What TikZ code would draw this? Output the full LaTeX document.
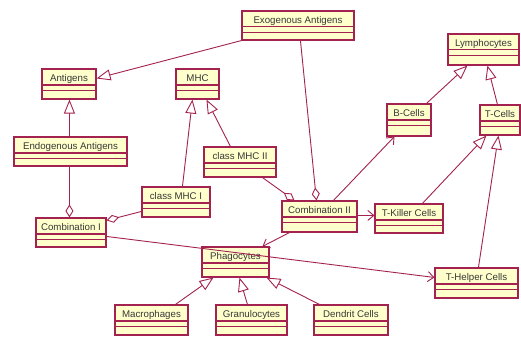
\documentclass[tikz,border=0pt]{standalone}
\usepackage{fontspec}
\setmainfont{Liberation Sans}
\usetikzlibrary{arrows.meta,calc,fit}
\definecolor{umlred}{RGB}{163,34,80}
\definecolor{umlfill}{RGB}{255,255,204}
\definecolor{umltext}{RGB}{55,55,55}
\tikzset{
  cls/.style={draw=umlred, fill=umlfill, line width=1.1pt, inner sep=0pt, rectangle},
  lbl/.style={font=\fontsize{9.7}{10}\selectfont, text=umltext, inner sep=0pt, anchor=base},
  sep/.style={draw=umlred, line width=1.1pt},
  conn/.style={draw=umlred, line width=0.9pt},
  gen/.style={conn, -{Triangle[open,length=14pt,width=11pt,fill=white]}},
  agg/.style={conn, {Diamond[open,length=13pt,width=8pt,fill=white]}-},
  nav/.style={conn, -{Straight Barb[length=6pt,width=10pt]}}
}
\newcommand\umlclass[6]{%
  \node[cls, fit={(#2,#3) (#4,#5)}] (#1) {};
  \draw[sep] ($(#1.north west)+(0,16.5)$) -- ($(#1.north east)+(0,16.5)$);
  \draw[sep] ($(#1.north west)+(0,22)$) -- ($(#1.north east)+(0,22)$);
  \node[lbl] (#1-t) at ($(#1.north)+(0,12.6)$) {#6};
}
\begin{document}
\begin{tikzpicture}[x=1pt,y=-1pt]
\useasboundingbox[fill=white] (0,0) rectangle (521,337);
\umlclass{exo}{242}{11}{354}{40}{Exogenous Antigens}
\umlclass{ant}{42}{69}{96}{99}{Antigens}
\umlclass{mhc}{176}{69}{219}{99}{MHC}
\umlclass{endo}{14}{137}{127}{166}{Endogenous Antigens}
\umlclass{mhc2}{204}{147}{276}{177}{class MHC II}
\umlclass{mhc1}{142}{187}{210}{217}{class MHC I}
\umlclass{comb1}{36}{218}{106}{247}{Combination I}
\umlclass{comb2}{282}{201}{357}{232}{Combination II}
\umlclass{tkill}{375}{204}{443}{233}{T-Killer Cells}
\umlclass{phago}{202}{247}{269}{277}{Phagocytes}
\umlclass{macro}{115}{305}{188}{335}{Macrophages}
\umlclass{granu}{216}{305}{287}{335}{Granulocytes}
\umlclass{dend}{314}{305}{388}{335}{Dendrit Cells}
\umlclass{thelp}{435}{268}{518}{298}{T-Helper Cells}
\umlclass{lymph}{448}{34}{519}{65}{Lymphocytes}
\umlclass{bcell}{387}{104}{431}{136}{B-Cells}
\umlclass{tcell}{480}{105}{520}{135}{T-Cells}
% generalizations
\draw[gen] (exo.south west) -- ($(ant.north east)+(0,10)$);
\draw[gen] ($(endo.north west)+(56,0)$) -- ($(ant.south west)+(28,0)$);
\draw[gen] ($(mhc1.north west)+(41,0)$) -- ($(mhc.south west)+(17,0)$);
\draw[gen] ($(mhc2.north west)+(27,0)$) -- ($(mhc.south west)+(31,0)$);
\draw[gen] ($(bcell.north west)+(40,0)$) -- ($(lymph.south west)+(20,0)$);
\draw[gen] ($(tcell.north west)+(18,0)$) -- ($(lymph.south west)+(40,0)$);
\draw[gen] ($(tkill.north west)+(48,0)$) -- ($(tcell.south west)+(7,0)$);
\draw[gen] ($(thelp.north west)+(44,0)$) -- ($(tcell.south west)+(19,0)$);
\draw[gen] ($(macro.north west)+(61,0)$) -- ($(phago.south west)+(12,0)$);
\draw[gen] ($(granu.north west)+(32,0)$) -- ($(phago.south west)+(38,0)$);
\draw[gen] ($(dend.north west)+(6,0)$) -- ($(phago.south west)+(65,0)$);
% aggregations
\draw[agg] ($(comb1.north west)+(34,0)$) -- ($(endo.south west)+(56,0)$);
\draw[agg] ($(comb1.north east)+(0,3)$) -- ($(mhc1.north west)+(0,25)$);
\draw[agg] ($(comb2.north west)+(13,0)$) -- ($(mhc2.south west)+(59,0)$);
\draw[agg] ($(comb2.north west)+(35,0)$) -- ($(exo.south west)+(59,0)$);
% navigable associations
\draw[nav] ($(comb2.north west)+(52,0)$) -- ($(bcell.south west)+(8,0)$);
\draw[nav] ($(comb2.north east)+(0,15)$) -- ($(tkill.north west)+(0,12)$);
\draw[nav] ($(comb2.south west)+(8,0)$) -- ($(phago.north west)+(61,0)$);
\draw[nav] ($(comb1.north east)+(0,19)$) -- ($(thelp.north west)+(0,10)$);
\end{tikzpicture}
\end{document}
